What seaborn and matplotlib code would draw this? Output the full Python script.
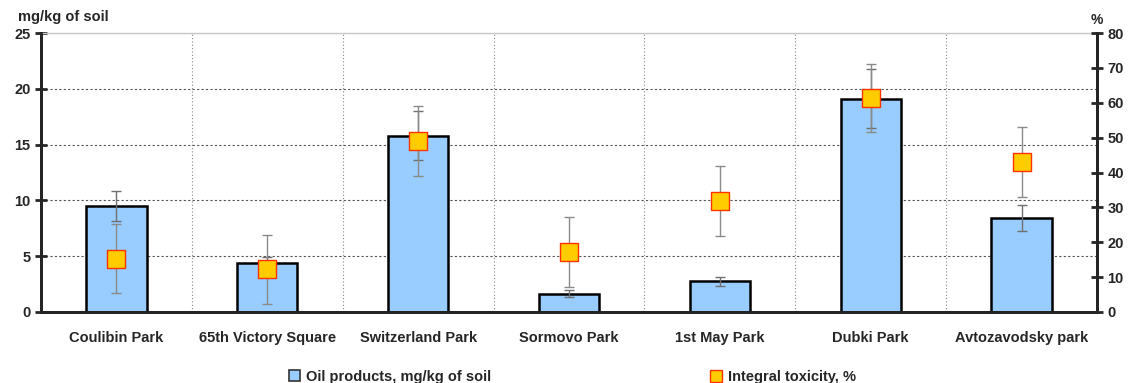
import numpy as np
import pandas as pd
import matplotlib
matplotlib.use("Agg")
import matplotlib.pyplot as plt
import seaborn as sns
from matplotlib.patches import Patch
from matplotlib.lines import Line2D

# data
parks = ["Coulibin Park", "65th Victory Square", "Switzerland Park", "Sormovo Park",
         "1st May Park", "Dubki Park", "Avtozavodsky park"]
oil = [9.5, 4.35, 15.8, 1.65, 2.75, 19.1, 8.4]
oil_err = [1.35, 0.6, 2.2, 0.3, 0.4, 2.65, 1.15]
toxicity = [15.3, 12.2, 49.0, 17.2, 31.9, 61.3, 43.1]
tox_err = [9.8, 10.0, 10.0, 10.0, 10.0, 9.8, 10.0]

sns.set_style("white")
plt.rcParams['font.family'] = ['Liberation Sans', 'DejaVu Sans']
plt.rcParams['font.weight'] = 'bold'

df = pd.DataFrame({"park": parks, "oil": oil})

fig = plt.figure(figsize=(11.33, 3.83), dpi=100)
ax = fig.add_axes([0.0362, 0.1854, 0.9320, 0.7284])

sns.barplot(data=df, x="park", y="oil", ax=ax, color="#99CCFF", width=0.4,
            edgecolor="black", linewidth=1.8, saturation=1, zorder=2)
xs = np.arange(len(parks))
ax.errorbar(xs, oil, yerr=oil_err, fmt="none", ecolor="#707070", elinewidth=1,
            capsize=3.5, capthick=1, zorder=3)

ax.set_xlim(-0.5, len(parks) - 0.5)
ax.set_ylim(0, 25)
ax.set_yticks(range(0, 26, 5))
ax.set_xlabel("")
ax.set_ylabel("")
ax.set_xticks(xs)
ax.set_xticklabels(parks, fontsize=10.5, fontweight="bold")
ax.set_xticks(np.arange(0.5, len(parks) - 1, 1), minor=True)
ax.tick_params(axis="x", which="major", length=0, pad=14)
ax.tick_params(axis="x", which="minor", length=8, width=2, direction="inout")
ax.tick_params(axis="y", length=8, width=2, direction="inout", labelsize=10.5)
for lab in ax.get_yticklabels():
    lab.set_fontweight("bold")

ax.grid(axis="y", which="major", linestyle=(0, (2, 2)), color="#555555", linewidth=0.8)
ax.grid(axis="x", which="minor", linestyle=(0, (1, 2)), color="#888888", linewidth=0.8)
ax.grid(axis="x", which="major", visible=False)
for s in ["left", "bottom", "right"]:
    ax.spines[s].set_linewidth(2)
    ax.spines[s].set_color("black")
ax.spines["top"].set_color("#c8c8c8")
ax.spines["top"].set_linewidth(1)

ax2 = ax.twinx()
ax2.errorbar(xs, toxicity, yerr=tox_err, fmt="none", ecolor="#8a8a8a", elinewidth=1,
             capsize=3.5, capthick=1, zorder=3)
sns.scatterplot(x=xs, y=toxicity, ax=ax2, marker="s", s=160, color="#FFCC00",
                edgecolor="#FF3300", linewidth=1, zorder=4)
ax2.set_ylim(0, 80)
ax2.set_yticks(range(0, 81, 10))
ax2.tick_params(axis="y", length=8, width=2, direction="inout", labelsize=10.5)
for lab in ax2.get_yticklabels():
    lab.set_fontweight("bold")
for s in ["left", "bottom", "right"]:
    ax2.spines[s].set_linewidth(2)
ax2.spines["top"].set_visible(False)
ax2.grid(False)

fig.text(0.016, 0.955, "mg/kg of soil", fontsize=10.5, fontweight="bold", ha="left", va="center")
fig.text(0.968, 0.948, "%", fontsize=10, fontweight="bold", ha="center", va="center")

handles = [Patch(facecolor="#99CCFF", edgecolor="#333333", linewidth=1.2),
           Line2D([], [], marker="s", linestyle="none", markersize=8,
                  markerfacecolor="#FFCC00", markeredgecolor="#FF3300")]
fig.legend(handles, ["Oil products, mg/kg of soil", "Integral toxicity, %"],
           loc="lower center", bbox_to_anchor=(0.505, -0.036), ncol=2, frameon=False,
           columnspacing=15, handlelength=0.8, handletextpad=0.4,
           prop={"size": 10.5, "weight": "bold"})

fig.savefig("out.png", dpi=100)
